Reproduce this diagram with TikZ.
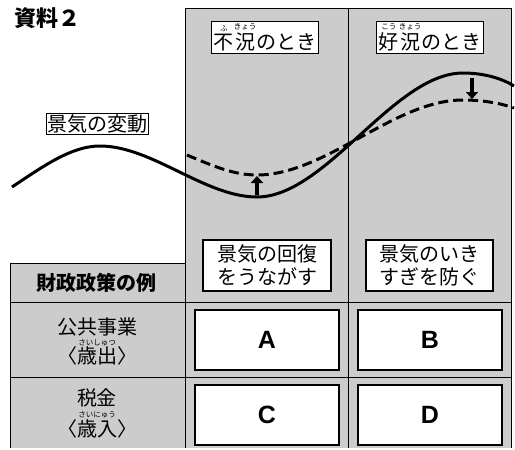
\documentclass[tikz,border=0pt]{standalone}
\usepackage{fontspec}
\setmainfont{Noto Sans CJK JP}
\newfontfamily\abcfont{Liberation Sans}
\usetikzlibrary{arrows.meta}
\newcommand\rubysize{\fontsize{7.5pt}{7.5pt}\selectfont}
\newcommand\furi[2]{\leavevmode\vbox{\offinterlineskip\halign{\hfil##\hfil\cr\rubysize#2\cr\noalign{\kern3pt}#1\cr}}}

\begin{document}
\begin{tikzpicture}[x=1pt,y=-1pt,
  rule/.style={line width=1pt},
  tag/.style={draw,fill=white,line width=1.2pt,inner sep=2pt,font=\fontsize{20pt}{23pt}\selectfont},
  answer/.style={draw,fill=white,line width=1.4pt,minimum width=144pt,minimum height=60pt,font=\abcfont\bfseries\fontsize{25pt}{25pt}\selectfont},
  rowhead/.style={font=\fontsize{20pt}{24pt}\selectfont},
  ruby/.style={font=\rubysize,inner sep=0pt},
  curveline/.style={line width=3pt},
  push/.style={line width=4.5pt,-{Triangle[length=7pt,width=12pt]}}]
\useasboundingbox (0,0) rectangle (515,450);

\fill[black!20] (185,8) rectangle (511,448);
\fill[black!20] (10,263) rectangle (185,448);
\draw[rule] (185,448) -- (185,8) -- (511,8) -- (511,448);
\draw[rule] (348,8) -- (348,448);
\draw[rule] (10,448) -- (10,263) -- (185,263);
\draw[rule] (10,302) -- (511,302);
\draw[rule] (10,377) -- (511,377);

\draw (48,18) node (title) [font=\bfseries\fontsize{22pt}{22pt}\selectfont] {資料２};

\draw (265,37.5) node (fukyo) [tag] {\furi{不}{ふ}\furi{況}{きょう}のとき};
\draw (430,37.5) node (kokyo) [tag] {\furi{好}{こう}\furi{況}{きょう}のとき};
\draw (97.5,124) node (hendo) [tag,inner sep=1pt] {景気の変動};

\draw[curveline] (12,187) .. controls (45,165) and (72,146) .. (100,146)
  .. controls (152,146) and (205,197) .. (257,197)
  .. controls (326,197) and (394,73) .. (463,73)
  .. controls (485,73) and (503,79) .. (514,86);
\draw[curveline,dash pattern=on 10pt off 5pt] (187,155) .. controls (215,167) and (235,175) .. (257,175)
  .. controls (326,175) and (394,100) .. (463,100)
  .. controls (485,100) and (503,104) .. (514,108);

\coordinate (lowsolid) at (257,195);
\coordinate (lowdash) at (257,176);
\coordinate (highsolid) at (472,78);
\coordinate (highdash) at (472,99);
\draw[push] (lowsolid) -- (lowdash);
\draw[push] (highsolid) -- (highdash);

\draw (267,265.5) node (kaifuku) [tag,minimum width=128pt,minimum height=51pt,align=center] {景気の回復\\をうながす};
\draw (429.5,265.5) node (ikisugi) [tag,minimum width=127pt,minimum height=51pt,align=center] {景気のいき\\すぎを防ぐ};

\draw (97,283) node (seisaku) [rowhead,font=\bfseries\fontsize{20pt}{24pt}\selectfont] {財政政策の例};
\draw (97,327) node (jigyo) [rowhead] {公共事業};
\draw (97,343) node (saishutsuruby) [ruby] {さいしゅつ};
\draw (97,356) node (saishutsu) [rowhead] {〈歳出〉};
\draw (97,398) node (zeikin) [rowhead] {税金};
\draw (97,415) node (sainyuruby) [ruby] {さいにゅう};
\draw (97,429) node (sainyu) [rowhead] {〈歳入〉};

\draw (267,340) node (A) [answer] {A};
\draw (430,340) node (B) [answer] {B};
\draw (267,415) node (C) [answer] {C};
\draw (430,415) node (D) [answer] {D};
\end{tikzpicture}
\end{document}
